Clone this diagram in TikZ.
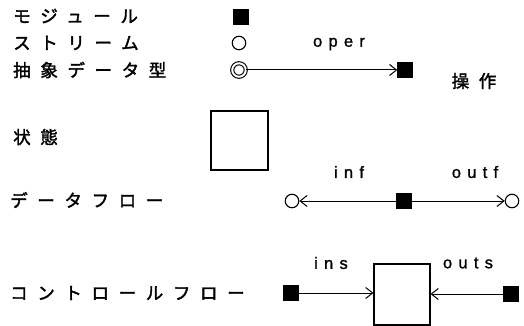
\documentclass[tikz,border=0pt]{standalone}
\usepackage{fontspec}
\usetikzlibrary{arrows.meta}
\newfontfamily\jpfont[LetterSpace=55, FakeBold=2]{Noto Sans CJK JP}
\newfontfamily\lblfont[LetterSpace=38, FakeBold=1.2]{Liberation Sans}
\tikzset{
  jp/.style={anchor=west, inner sep=0pt, font=\jpfont\fontsize{17.5}{17.5}\selectfont},
  lbl/.style={inner sep=0pt, font=\lblfont\fontsize{16.5}{16.5}\selectfont},
  module/.style={draw, fill=black, minimum size=15pt, inner sep=0pt},
  stream/.style={circle, draw, minimum size=13.5pt, inner sep=0pt, line width=1.1pt},
  adt/.style={circle, draw, double, double distance=2pt, minimum size=13.5pt, inner sep=0pt, line width=1.1pt},
  statebox/.style={draw, line width=1.1pt, inner sep=0pt},
  flow/.style={line width=1pt, -{Straight Barb[length=7pt, width=11pt, line width=1pt]}},
}
\begin{document}
\begin{tikzpicture}[x=1pt, y=-1pt]
  \useasboundingbox (0,0) rectangle (524,326);

  % legend labels
  \node[jp] (tmod)  at (13,16)  {モジュール};
  \node[jp] (tstr)  at (13,43)  {ストリーム};
  \node[jp] (tadt)  at (13,70)  {抽象データ型};
  \node[jp] (tst)   at (13,137) {状態};
  \node[jp] (tdf)   at (10,200) {データフロー};
  \node[jp] (tcf)   at (10,293) {コントロールフロー};

  % module and stream symbols
  \node[module] (mod) at (241,17) {};
  \node[stream] (str) at (239,43) {};

  % abstract data type with its operation
  \node[adt] (adt) at (239,70) {};
  \node[module] (op) at (405,70) {};
  \draw[flow] (adt) -- (op);
  \node[lbl] (oper) at (339,44) {oper};
  \node[jp, anchor=center] (sousa) at (474,81) {操作};

  % state
  \node[statebox, minimum width=57pt, minimum height=59pt] (state) at (239.5,140.5) {};

  % data flow
  \node[stream] (din)  at (292,201) {};
  \node[module] (dmod) at (404,201) {};
  \node[stream] (dout) at (512,201) {};
  \draw[flow] (dmod) -- (din);
  \draw[flow] (dmod) -- (dout);
  \node[lbl] (inf)  at (349,172) {inf};
  \node[lbl] (outf) at (475,172) {outf};

  % control flow
  \node[module] (cin)  at (291,293) {};
  \node[statebox, minimum width=56pt, minimum height=61pt] (cbox) at (402,294.5) {};
  \node[module] (cout) at (511,294) {};
  \draw[flow] (cin) -- (cin -| cbox.west);
  \draw[flow] (cout) -- (cout -| cbox.east);
  \node[lbl] (ins)  at (331,263) {ins};
  \node[lbl] (outs) at (468,263) {outs};
\end{tikzpicture}
\end{document}
